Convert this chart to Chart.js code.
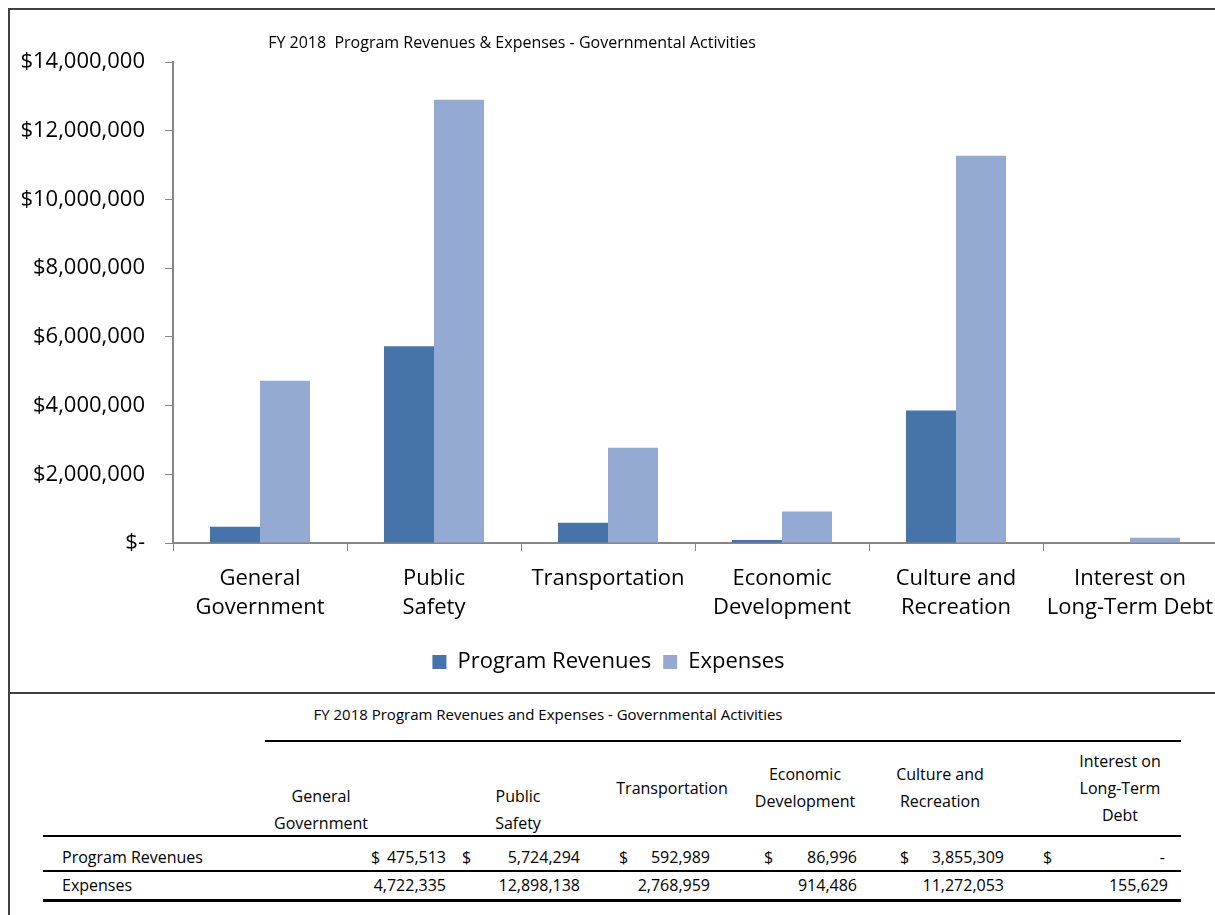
<!DOCTYPE html>
<html>
<head>
<meta charset="utf-8">
<script src="https://cdn.jsdelivr.net/npm/chart.js@4/dist/chart.umd.min.js"></script>
<style>
    html, body { margin: 0; padding: 0; background: #fff; overflow: hidden; width: 1215px; height: 915px; }
    body { position: relative; font-family: "Open Sans", Lato, sans-serif; color: #000; }
    #chart-wrap { position: absolute; left: 0; top: 0; width: 1240px; height: 693px; }
    .line { position: absolute; background: #404040; }
    .txt { position: absolute; font-size: 16px; white-space: nowrap; line-height: 27px; }
    .tline { position: absolute; background: #000; height: 2px; }
</style>
</head>
<body>
<div id="chart-wrap"><canvas id="graph"></canvas></div>

<!-- chart frame -->
<div class="line" style="left:8px; top:8px; width:1207px; height:2px;"></div>
<div class="line" style="left:8px; top:8px; width:2px; height:907px;"></div>
<div class="line" style="left:8px; top:692px; width:1207px; height:2px;"></div>

<div id="table"></div>

<script>
// Categories (chart labels and table headers)
const categories = ['General Government', 'Public Safety', 'Transportation',
    'Economic Development', 'Culture and Recreation', 'Interest on Long-Term Debt'];
const chartLabels = [['General', 'Government'], ['Public', 'Safety'], 'Transportation',
    ['Economic', 'Development'], ['Culture and', 'Recreation'], ['Interest on', 'Long-Term Debt']];
const tableHeaders = [['General', 'Government'], ['Public', 'Safety'], ['Transportation'],
    ['Economic', 'Development'], ['Culture and', 'Recreation'], ['Interest on', 'Long-Term', 'Debt']];

// Series values
const programRevenues = [475513, 5724294, 592989, 86996, 3855309, 0];
const expenses = [4722335, 12898138, 2768959, 914486, 11272053, 155629];

// Y axis ticks
const yTicks = [0, 2000000, 4000000, 6000000, 8000000, 10000000, 12000000, 14000000];

const FONT = '"Open Sans", Lato, sans-serif';

// Draw the chart title (sits left of centre in the original)
const titlePlugin = {
    id: 'customTitle',
    afterDraw(chart) {
        const ctx = chart.ctx;
        ctx.save();
        ctx.font = '16px ' + FONT;
        ctx.fillStyle = '#000';
        ctx.textAlign = 'center';
        ctx.textBaseline = 'middle';
        ctx.fillText('FY 2018  Program Revenues & Expenses - Governmental Activities', 512, 43);
        ctx.restore();
    }
};

let ctx = document.getElementById('graph');

barChart = new Chart(ctx, {
    type: 'bar',
    data: {
        labels: chartLabels,
        datasets: [{
            label: 'Program Revenues',
            data: programRevenues,
            backgroundColor: '#4674A8',
            categoryPercentage: 0.575,
            barPercentage: 1.0
        }, {
            label: 'Expenses',
            data: expenses,
            backgroundColor: '#95AAD3',
            categoryPercentage: 0.575,
            barPercentage: 1.0
        }]
    },
    options: {
        responsive: true,
        maintainAspectRatio: false,
        animation: false,
        layout: {
            padding: { top: 62, right: 23, bottom: 10, left: 0 }
        },
        plugins: {
            title: { display: false },
            tooltip: { enabled: false },
            legend: {
                position: 'bottom',
                labels: {
                    color: '#000',
                    font: { family: FONT, size: 22 },
                    boxWidth: 14,
                    boxHeight: 14,
                    padding: 12
                }
            }
        },
        scales: {
            x: {
                afterFit: (scale) => { scale.height = 96; },
                border: { color: '#868686', width: 2 },
                grid: {
                    offset: true,
                    drawOnChartArea: false,
                    color: '#868686',
                    tickLength: 8,
                    lineWidth: 1
                },
                ticks: {
                    color: '#000',
                    padding: 13,
                    maxRotation: 0,
                    autoSkip: false,
                    font: { family: FONT, size: 22, lineHeight: 1.32 }
                }
            },
            y: {
                min: 0,
                max: 14000000,
                afterFit: (scale) => { scale.width = 173; },
                afterBuildTicks: (scale) => { scale.ticks = yTicks.map(v => ({ value: v })); },
                border: { color: '#868686', width: 2 },
                grid: {
                    drawOnChartArea: false,
                    color: '#868686',
                    tickLength: 8
                },
                ticks: {
                    color: '#000',
                    padding: 20,
                    font: { family: FONT, size: 22 },
                    callback: (v) => v === 0 ? '$-' : '$' + v.toLocaleString('en-US')
                }
            }
        }
    },
    plugins: [titlePlugin]
});

// ---------------- table under the chart ----------------
const table = document.getElementById('table');

function addText(text, left, top, align, width, size) {
    let d = document.createElement('div');
    d.className = 'txt';
    d.textContent = text;
    if (size) d.style.fontSize = size + 'px';
    if (align === 'right') {
        d.style.right = (1215 - left) + 'px';
    } else if (align === 'center') {
        d.style.left = (left - width / 2) + 'px';
        d.style.width = width + 'px';
        d.style.textAlign = 'center';
    } else {
        d.style.left = left + 'px';
    }
    d.style.top = (top - 14) + 'px';
    table.appendChild(d);
}

function addLine(x1, x2, y, h) {
    let d = document.createElement('div');
    d.className = 'tline';
    d.style.left = x1 + 'px';
    d.style.width = (x2 - x1) + 'px';
    d.style.top = y + 'px';
    d.style.height = (h || 2) + 'px';
    table.appendChild(d);
}

addText('FY 2018 Program Revenues and Expenses - Governmental Activities', 548, 715, 'center', 700, 15);
addLine(265, 1181, 740);

// header positions
const headerCenters = [321, 518, 672, 805, 940, 1120];
const headerTops = [797, 797, 789, 775, 775, 762];
tableHeaders.forEach((lines, i) => {
    lines.forEach((l, j) => addText(l, headerCenters[i], headerTops[i] + j * 27, 'center', 200));
});
addLine(43, 1181, 835);

const dollarX = [371, 462, 619, 764, 900, 1043];
const numRight = [446, 580, 710, 857, 1004, 1168];
const fmt = (v) => v === 0 ? '-' : v.toLocaleString('en-US');

addText('Program Revenues', 62, 858, 'left');
programRevenues.forEach((v, i) => {
    addText('$', dollarX[i], 858, 'left');
    addText(fmt(v), v === 0 ? numRight[i] - 3 : numRight[i], 858, 'right');
});
addLine(43, 1181, 870);

addText('Expenses', 62, 886, 'left');
expenses.forEach((v, i) => {
    addText(fmt(v), numRight[i], 886, 'right');
});
addLine(43, 1181, 899, 3);
</script>
</body>
</html>
